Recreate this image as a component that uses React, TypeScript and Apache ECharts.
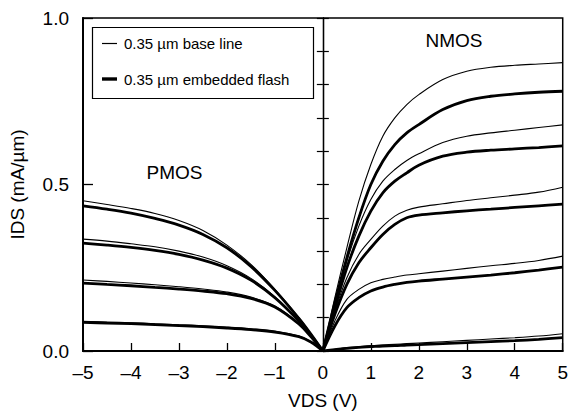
import React, { useEffect, useRef } from "react";
import * as echarts from "echarts";

// PMOS (VDS < 0)
const pmosX = [-5, -4.5, -4, -3.5, -3, -2.5, -2, -1.5, -1, -0.5, -0.25, 0];
const p1Base = [0.451, 0.44, 0.428, 0.413, 0.392, 0.362, 0.318, 0.26, 0.185, 0.1, 0.052, 0];
const p1Flash = [0.436, 0.426, 0.414, 0.398, 0.378, 0.35, 0.31, 0.254, 0.182, 0.098, 0.051, 0];
const p2Base = [0.336, 0.33, 0.322, 0.313, 0.3, 0.282, 0.256, 0.218, 0.163, 0.092, 0.048, 0];
const p2Flash = [0.324, 0.318, 0.311, 0.302, 0.29, 0.273, 0.249, 0.213, 0.16, 0.09, 0.047, 0];
const p3Base = [0.213, 0.209, 0.204, 0.199, 0.193, 0.186, 0.177, 0.162, 0.135, 0.083, 0.044, 0];
const p3Flash = [0.204, 0.2, 0.196, 0.191, 0.186, 0.18, 0.172, 0.158, 0.132, 0.081, 0.043, 0];
const p4Base = [0.089, 0.087, 0.085, 0.082, 0.079, 0.076, 0.072, 0.067, 0.06, 0.045, 0.028, 0];
const p4Flash = [0.086, 0.084, 0.082, 0.079, 0.076, 0.073, 0.069, 0.064, 0.057, 0.043, 0.027, 0];

// NMOS (VDS > 0)
const nmosX = [0, 0.25, 0.5, 0.75, 1, 1.25, 1.5, 1.75, 2, 2.5, 3, 3.5, 4, 4.5, 5];
const n1Base = [0, 0.16, 0.31, 0.45, 0.56, 0.645, 0.7, 0.74, 0.77, 0.815, 0.84, 0.852, 0.858, 0.862, 0.866];
const n1Flash = [0, 0.145, 0.28, 0.4, 0.5, 0.57, 0.62, 0.655, 0.68, 0.725, 0.752, 0.765, 0.772, 0.777, 0.78];
const n2Base = [0, 0.14, 0.27, 0.375, 0.455, 0.51, 0.545, 0.572, 0.592, 0.626, 0.645, 0.655, 0.663, 0.671, 0.679];
const n2Flash = [0, 0.13, 0.25, 0.345, 0.42, 0.475, 0.51, 0.535, 0.558, 0.585, 0.597, 0.603, 0.607, 0.611, 0.616];
const n3Base = [0, 0.12, 0.22, 0.29, 0.335, 0.375, 0.405, 0.423, 0.432, 0.442, 0.452, 0.46, 0.468, 0.477, 0.492];
const n3Flash = [0, 0.11, 0.2, 0.265, 0.31, 0.35, 0.38, 0.4, 0.408, 0.415, 0.421, 0.426, 0.431, 0.436, 0.441];
const n4Base = [0, 0.09, 0.155, 0.185, 0.205, 0.215, 0.222, 0.228, 0.232, 0.24, 0.248, 0.256, 0.263, 0.272, 0.285];
const n4Flash = [0, 0.075, 0.13, 0.16, 0.18, 0.192, 0.2, 0.206, 0.21, 0.216, 0.222, 0.228, 0.235, 0.243, 0.252];
const n5Base = [0, 0.005, 0.01, 0.013, 0.016, 0.018, 0.02, 0.022, 0.024, 0.028, 0.032, 0.036, 0.04, 0.045, 0.052];
const n5Flash = [0, 0.004, 0.008, 0.011, 0.013, 0.015, 0.016, 0.018, 0.019, 0.022, 0.025, 0.028, 0.031, 0.035, 0.04];

const xTicks = [-5, -4, -3, -2, -1, 0, 1, 2, 3, 4, 5];
const yTickLabels = ["0.0", "0.5", "1.0"];

const legendNames = ["0.35 µm base line", "0.35 µm embedded flash"];
const regionLabels = ["PMOS", "NMOS"];

const FONT = "'Liberation Sans', Arial, Helvetica, sans-serif";

const baseCurves = [
  { x: pmosX, y: p1Base }, { x: pmosX, y: p2Base }, { x: pmosX, y: p3Base }, { x: pmosX, y: p4Base },
  { x: nmosX, y: n1Base }, { x: nmosX, y: n2Base }, { x: nmosX, y: n3Base }, { x: nmosX, y: n4Base }, { x: nmosX, y: n5Base },
];
const flashCurves = [
  { x: pmosX, y: p1Flash }, { x: pmosX, y: p2Flash }, { x: pmosX, y: p3Flash }, { x: pmosX, y: p4Flash },
  { x: nmosX, y: n1Flash }, { x: nmosX, y: n2Flash }, { x: nmosX, y: n3Flash }, { x: nmosX, y: n4Flash }, { x: nmosX, y: n5Flash },
];

export default function App() {
  const ref = useRef<HTMLDivElement>(null);
  useEffect(() => {
    if (!ref.current) return;
    const chart = echarts.init(ref.current, undefined, { renderer: "svg" });
    const mk = (c: { x: number[]; y: number[] }, name: string, w: number) => ({
      type: "line",
      name,
      data: c.x.map((v, i) => [v, c.y[i]]),
      showSymbol: false,
      symbol: "none",
      smooth: 0.35,
      lineStyle: { color: "#000", width: w },
      itemStyle: { color: "#000" },
      silent: true,
      z: w > 2 ? 2 : 3,
    });
    const series: any[] = [
      ...flashCurves.map((c) => mk(c, legendNames[1], 2.8)),
      ...baseCurves.map((c) => mk(c, legendNames[0], 1.1)),
    ];
    const centralAxis = (inside: boolean) => ({
      type: "value",
      min: 0,
      max: 1,
      interval: 0.1,
      position: "left",
      axisLine: { show: true, onZero: true, onZeroAxisIndex: 0, lineStyle: { color: "#000", width: 1.3 } },
      axisTick: { show: true, inside, length: 6, lineStyle: { color: "#000", width: 1.2 } },
      axisLabel: { show: false },
      splitLine: { show: false },
    });
    chart.setOption({
      animation: false,
      grid: {
        left: 83,
        right: 2,
        top: 18,
        bottom: 65,
        show: true,
        borderColor: "#000",
        borderWidth: 1.5,
        backgroundColor: "transparent",
      },
      xAxis: {
        type: "value",
        min: -5,
        max: 5,
        interval: 1,
        name: "VDS (V)",
        nameLocation: "middle",
        nameGap: 40,
        nameTextStyle: { fontFamily: FONT, fontSize: 19, color: "#000" },
        axisLine: { show: true, onZero: false, lineStyle: { color: "#000", width: 2 } },
        axisTick: { show: true, inside: true, length: 8, lineStyle: { color: "#000", width: 1.3 } },
        axisLabel: {
          fontFamily: FONT,
          fontSize: 19,
          color: "#000",
          margin: 12,
          formatter: (v: number) => {
            const t = xTicks.find((k) => k === v);
            return t === undefined ? "" : String(t).replace("-", "\u2013");
          },
        },
        splitLine: { show: false },
      },
      yAxis: [
        {
          type: "value",
          min: 0,
          max: 1,
          interval: 0.5,
          name: "IDS (mA/µm)",
          nameLocation: "middle",
          nameGap: 56,
          nameTextStyle: { fontFamily: FONT, fontSize: 19, color: "#000" },
          axisLine: { show: true, onZero: false, lineStyle: { color: "#000", width: 2 } },
          axisTick: { show: true, inside: true, length: 10, lineStyle: { color: "#000", width: 1.3 } },
          axisLabel: {
            fontFamily: FONT,
            fontSize: 19,
            color: "#000",
            margin: 14,
            formatter: (v: number) => yTickLabels[Math.round(v * 2)] ?? "",
          },
          splitLine: { show: false },
        },
        centralAxis(true),
        centralAxis(false),
      ],
      series,
      graphic: [
        {
          type: "rect",
          shape: { x: 92.5, y: 27.5, width: 221, height: 71 },
          style: { fill: "#fff", stroke: "#000", lineWidth: 1.2 },
          z: 100,
        },
        {
          type: "line",
          shape: { x1: 102, y1: 43.5, x2: 117, y2: 43.5 },
          style: { stroke: "#000", lineWidth: 1.2 },
          z: 101,
        },
        {
          type: "line",
          shape: { x1: 102, y1: 79, x2: 117, y2: 79 },
          style: { stroke: "#000", lineWidth: 3.4 },
          z: 101,
        },
        {
          type: "text",
          x: 124,
          y: 43.5,
          style: { text: legendNames[0], font: `15px ${FONT}`, fill: "#000", textVerticalAlign: "middle" },
          z: 101,
        },
        {
          type: "text",
          x: 124,
          y: 79,
          style: { text: legendNames[1], font: `15px ${FONT}`, fill: "#000", textVerticalAlign: "middle" },
          z: 101,
        },
        {
          type: "text",
          x: 174.5,
          y: 172,
          style: { text: regionLabels[0], font: `19px ${FONT}`, fill: "#000", textAlign: "center", textVerticalAlign: "middle" },
          z: 101,
        },
        {
          type: "text",
          x: 454,
          y: 40.5,
          style: { text: regionLabels[1], font: `19px ${FONT}`, fill: "#000", textAlign: "center", textVerticalAlign: "middle" },
          z: 101,
        },
      ],
    });
    return () => chart.dispose();
  }, []);
  return (
    <div
      ref={ref}
      style={{ position: "absolute", left: 0, top: 0, width: 571, height: 416, background: "#fff" }}
    />
  );
}
